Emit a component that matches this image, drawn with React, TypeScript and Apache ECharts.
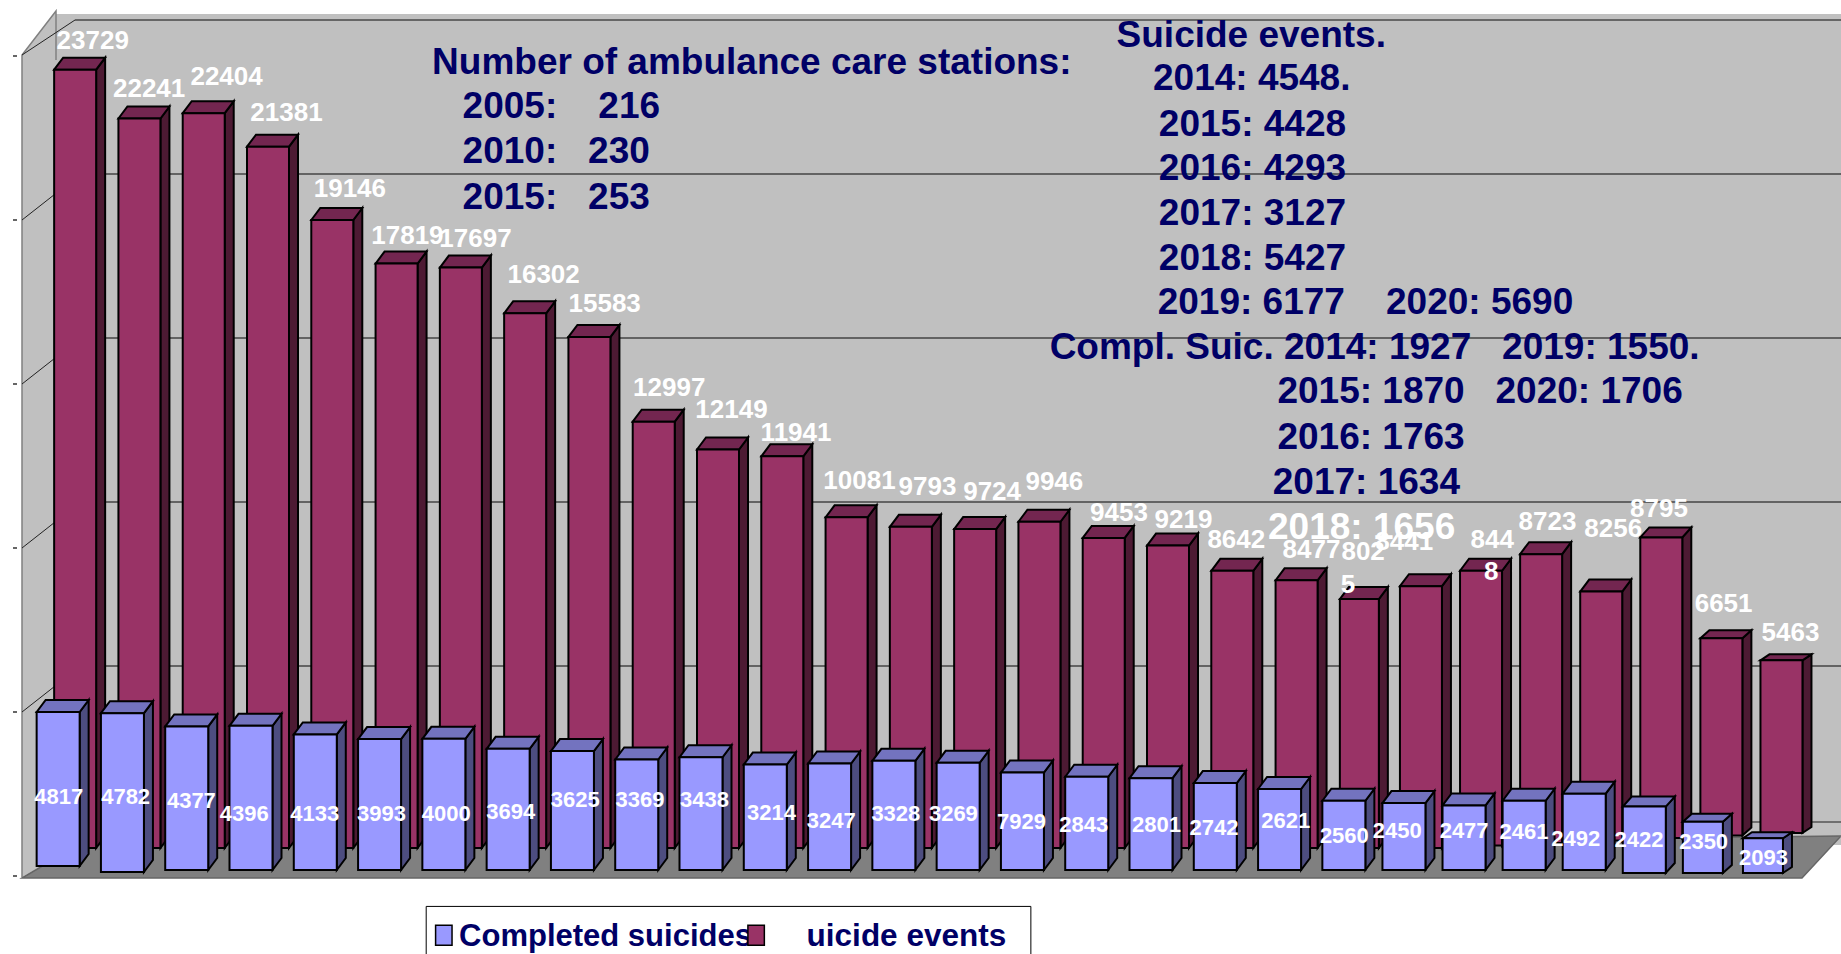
import React, { useEffect, useRef } from "react";
import * as echarts from "echarts";

// Printed labels
const eventLabels = ["23729","22241","22404","21381","19146","17819","17697","16302","15583","12997","12149","11941","10081","9793","9724","9946","9453","9219","8642","8477","802","8441","844","8723","8256","8795","6651","5463"];
const completedLabels = ["4817","4782","4377","4396","4133","3993","4000","3694","3625","3369","3438","3214","3247","3328","3269","7929","2843","2801","2742","2621","2560","2450","2477","2461","2492","2422","2350","2093"];
// Values as drawn (bar heights)
const eventValues = [23729,22241,22404,21381,19146,17819,17697,16302,15583,12997,12149,11941,10081,9793,9724,9946,9453,9219,8449,8162,7590,7983,8377,8807,7590,9165,6014,5263];
const completedValues = [4817,4782,4377,4396,4133,3993,4000,3694,3625,3369,3438,3214,3247,3328,3269,2971,2843,2801,2649,2470,2112,2040,1969,2112,2327,1933,1468,967];
const yTicks = [5000, 10000, 15000, 20000];

// Label layout, in reference pixels (1568 wide picture)
const S = 1841 / 1568;
const eventLabelPos = [[79,34],[127,75],[193,65],[244,95],[298,160],[347,200],[405,203],[463,233],[515,258],[570,330],[623,348],[678,368],[732,409],[790,414],[845,418],[898,410],[953,436],[1008,442],[1053,459],[1117,468],[1161,469],[1196,461],[1271,459],[1318,444],[1374,450],[1413,433],[1468,514],[1525,538]];
const completedLabelPos = [[50,678],[107,678],[163,682],[208,693],[268,693],[325,693],[380,693],[435,691],[490,681],[545,681],[600,681],[657,692],[708,699],[763,693],[812,693],[870,700],[923,702],[985,702],[1034,705],[1095,699],[1145,712],[1190,707],[1247,707],[1298,708],[1342,714],[1396,715],[1451,717],[1502,730]];
const wrappedLabels = [{ text: "5", x: 1148, y: 497 }, { text: "8", x: 1270, y: 486 }];

const navyNotes = [
  { text: "Number of ambulance care stations:", x: 368, y: 52 },
  { text: "2005:    216", x: 394, y: 90 },
  { text: "2010:   230", x: 394, y: 128 },
  { text: "2015:   253", x: 394, y: 167 },
  { text: "Suicide events.", x: 951, y: 29 },
  { text: "2014: 4548.", x: 982, y: 66 },
  { text: "2015: 4428", x: 987, y: 105 },
  { text: "2016: 4293", x: 987, y: 143 },
  { text: "2017: 3127", x: 987, y: 181 },
  { text: "2018: 5427", x: 987, y: 219 },
  { text: "2019: 6177    2020: 5690", x: 986, y: 257 },
  { text: "Compl. Suic. 2014: 1927   2019: 1550.", x: 894, y: 295 },
  { text: "2015: 1870   2020: 1706", x: 1088, y: 333 },
  { text: "2016: 1763", x: 1088, y: 372 },
  { text: "2017: 1634", x: 1084, y: 410 },
];
const whiteNote = { text: "2018: 1656", x: 1080, y: 448 };

const FONT = '"Liberation Sans", Arial, sans-serif';
const NAVY = "#000066";

const warpX = (i: number) => (i > 20 ? -(i - 20) * 4.2 : 0);
const depthY = (i: number) => (i <= 24 ? 12 : 12 - (i - 24) * 2);
const blueBaseShift = (i: number) => (i === 0 ? -4 : i === 1 ? 2 : i >= 25 ? 3 : 0);
const DEPTH_X = 9;

function box(x: number, baseY: number, topY: number, w: number, dx: number, dy: number, c: string[]) {
  const line = { stroke: "#000", lineWidth: 2 };
  return {
    type: "group",
    children: [
      { type: "polygon", shape: { points: [[x + w, topY], [x + w + dx, topY - dy], [x + w + dx, baseY - dy], [x + w, baseY]] }, style: { fill: c[2], ...line } },
      { type: "polygon", shape: { points: [[x, topY], [x + dx, topY - dy], [x + w + dx, topY - dy], [x + w, topY]] }, style: { fill: c[1], ...line } },
      { type: "rect", shape: { x, y: topY, width: w, height: baseY - topY }, style: { fill: c[0], ...line } },
    ],
  };
}

export default function App() {
  const ref = useRef<HTMLDivElement>(null);
  useEffect(() => {
    document.body.style.margin = "0";
    const chart = echarts.init(ref.current!, undefined, { renderer: "svg" });

    const backdrop = (_: any, api: any) => {
      const x0 = 22, bx = 78, right = 1841;
      const grid = yTicks.map((v) => {
        const y = api.coord([0, v])[1];
        return [
          { type: "line", shape: { x1: x0, y1: y, x2: bx, y2: y - 44 }, style: { stroke: "#222", lineWidth: 1 } },
          { type: "line", shape: { x1: bx, y1: y - 46, x2: right, y2: y - 46 }, style: { stroke: "#444", lineWidth: 1.5 } },
        ];
      }).flat();
      return {
        type: "group",
        children: [
          { type: "polygon", shape: { points: [[x0, 877], [x0, 55], [56, 11], [56, 14], [right, 14], [right, 845], [bx, 845]] }, style: { fill: "#C0C0C0" } },
          { type: "polyline", shape: { points: [[x0, 877], [x0, 55], [56, 11], [56, 60]] }, style: { stroke: "#808080", lineWidth: 1.5, fill: "none" } },
          { type: "line", shape: { x1: x0, y1: 55, x2: 75, y2: 20 }, style: { stroke: "#222", lineWidth: 1 } },
          { type: "line", shape: { x1: 75, y1: 20, x2: right, y2: 20 }, style: { stroke: "#666", lineWidth: 2 } },
          ...grid,
          { type: "line", shape: { x1: 1690, y1: 822, x2: right, y2: 822 }, style: { stroke: "#555", lineWidth: 1.5 } },
          { type: "polygon", shape: { points: [[x0, 878], [bx, 845], [1000, 845], [1841, 836], [1802, 878]] }, style: { fill: "#808080", stroke: "#666", lineWidth: 1.5 } },
        ],
      };
    };

    const redBars = (_: any, api: any) => {
      const i = api.value(0);
      const top = api.coord([i, api.value(1)]);
      const zero = api.coord([i, 0]);
      const base = zero[1] - 28 - (i > 21 ? (i - 21) * 2.5 : 0);
      const w = i === 20 ? 39 : 42;
      const x = top[0] + warpX(i);
      return box(x, base, base + top[1] - zero[1], w, DEPTH_X, depthY(i), ["#993366", "#732650", "#4D1A33"]);
    };

    const blueBars = (_: any, api: any) => {
      const i = api.value(0);
      const top = api.coord([i, api.value(1)]);
      const zero = api.coord([i, 0]);
      const base = zero[1] - 6;
      const w = i >= 26 ? 40 : 43;
      const x = top[0] + 4 + warpX(i) - 21.5;
      return box(x, base + blueBaseShift(i), base + top[1] - zero[1], w, DEPTH_X, depthY(i), ["#9999FF", "#7373BF", "#4D4D80"]);
    };

    const textEl = (text: string, x: number, y: number, size: number, fill: string, align = "center") => ({
      type: "text",
      z: 100,
      x: x * S,
      y: y * S,
      style: { text, fill, font: `bold ${size}px ${FONT}`, align, verticalAlign: "middle" },
    });

    const legendEls = [
      { type: "rect", z: 90, shape: { x: 363 * S, y: 772 * S, width: 515 * S, height: 60 }, style: { fill: "#fff", stroke: "#000", lineWidth: 1 } },
      { type: "rect", z: 92, shape: { x: 371 * S, y: 788 * S, width: 14 * S, height: 17 * S }, style: { fill: "#9999FF", stroke: "#000", lineWidth: 1.5 } },
      textEl("Completed suicides", 391, 797, 31, NAVY, "left"),
      { type: "rect", z: 101, shape: { x: 637 * S, y: 788 * S, width: 14 * S, height: 17 * S }, style: { fill: "#993366", stroke: "#000", lineWidth: 1.5 } },
      textEl("uicide events", 687, 796, 31.5, NAVY, "left"),
    ];

    chart.setOption({
      animation: false,
      grid: { left: 22, top: 56, width: 1800, height: 820, containLabel: false },
      xAxis: {
        type: "category",
        data: eventLabels.map((_, i) => String(i)),
        axisLine: { show: false },
        axisTick: { show: false },
        axisLabel: { show: false },
      },
      yAxis: {
        type: "value",
        min: 0,
        max: 25000,
        interval: 5000,
        offset: 5,
        axisLine: { show: false },
        axisTick: { show: true, length: 4, lineStyle: { color: "#333", width: 1.5 } },
        axisLabel: { show: false },
        splitLine: { show: false },
      },
      series: [
        { type: "custom", name: "backdrop", z: 1, renderItem: backdrop, data: [[0, 0]], encode: { x: 0, y: 1 }, silent: true, clip: false },
        { type: "custom", name: "Suicide events", z: 2, renderItem: redBars, data: eventValues.map((v, i) => [i, v]), encode: { x: 0, y: 1 } },
        { type: "custom", name: "Completed suicides", z: 3, renderItem: blueBars, data: completedValues.map((v, i) => [i, v]), encode: { x: 0, y: 1 } },
      ],
      graphic: {
        elements: [
          ...navyNotes.map((n) => textEl(n.text, n.x, n.y, 37, NAVY, "left")),
          textEl(whiteNote.text, whiteNote.x, whiteNote.y, 37, "#fff", "left"),
          ...eventLabels.map((t, i) => textEl(t, eventLabelPos[i][0], eventLabelPos[i][1], 26, "#fff")),
          ...wrappedLabels.map((w) => textEl(w.text, w.x, w.y, 26, "#fff")),
          ...completedLabels.map((t, i) => textEl(t, completedLabelPos[i][0], completedLabelPos[i][1], 22, "#fff")),
          ...legendEls,
        ],
      },
    });
    return () => chart.dispose();
  }, []);
  return <div ref={ref} style={{ position: "fixed", left: 0, top: 0, width: 1841, height: 954, overflow: "hidden", background: "#fff" }} />;
}
